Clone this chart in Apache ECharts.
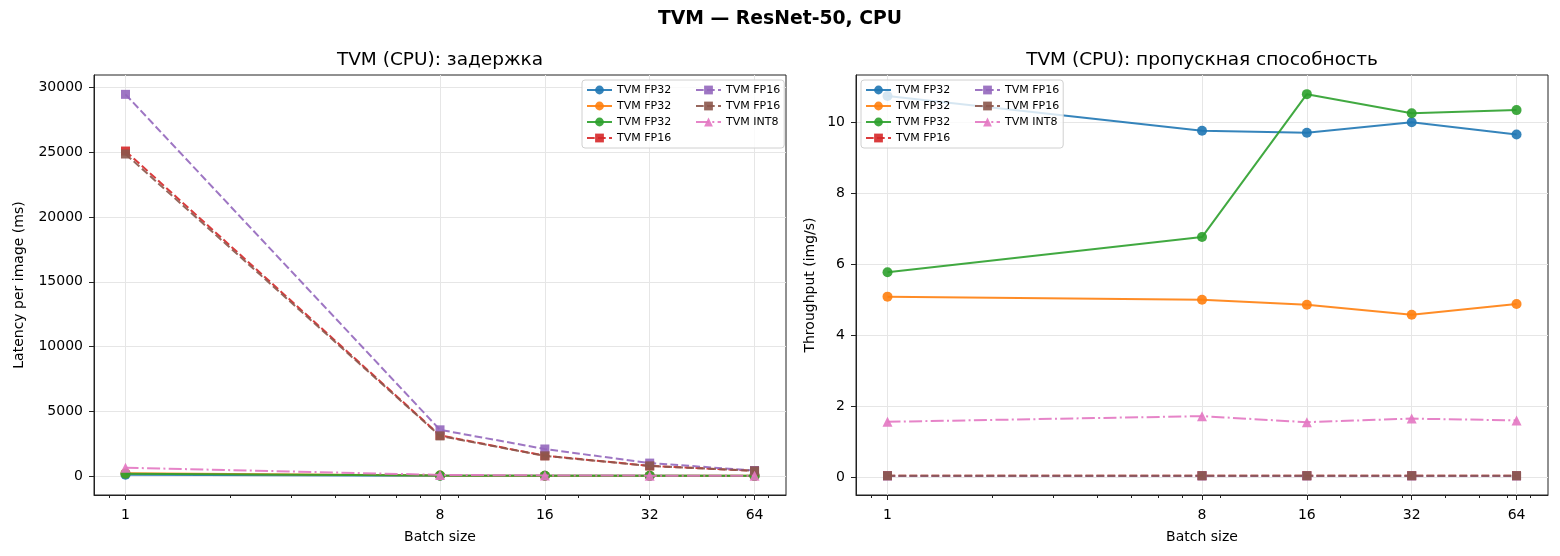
<!DOCTYPE html>
<html>
<head>
<meta charset="utf-8">
<script src="https://cdn.jsdelivr.net/npm/echarts@6/dist/echarts.min.js"></script>
<style>
  html, body { margin: 0; padding: 0; background: #fff; }
  #main { width: 1560px; height: 556px; }
</style>
</head>
<body>
<div id="main"></div>
<script>
// batch sizes on the x axis (log2)
var batchSizes = [1, 8, 16, 32, 64];
var xTicks = [1, 8, 16, 32, 64];
var xMinorTicks = [0.9, 2, 3, 4, 5, 6, 7, 9, 20, 30, 40, 50, 60, 70];
var latencyTicks = [0, 5000, 10000, 15000, 20000, 25000, 30000];
var throughputTicks = [0, 2, 4, 6, 8, 10];

// legend labels (suffix keeps duplicates apart, stripped in legend)
var seriesNames = ['TVM FP32 #1', 'TVM FP32 #2', 'TVM FP32 #3', 'TVM FP16 #4', 'TVM FP16 #5', 'TVM FP16 #6', 'TVM INT8 #7'];
var seriesColors = ['#1f77b4', '#ff7f0e', '#2ca02c', '#d62728', '#9467bd', '#8c564b', '#e377c2'];

// latency per image, ms
var latFp32a = [93, 12, 6, 3, 1.5];
var latFp32b = [197, 25, 12, 6, 3];
var latFp32c = [173, 22, 11, 5.4, 2.7];
var latFp16a = [25100, 3130, 1560, 780, 395];
var latFp16b = [29480, 3560, 2080, 990, 420];
var latFp16c = [24870, 3090, 1545, 770, 390];
var latInt8 = [630, 79, 39, 20, 10];

// throughput, img/s
var thrFp32a = [10.75, 9.77, 9.71, 10.01, 9.66];
var thrFp32b = [5.09, 5.0, 4.86, 4.58, 4.88];
var thrFp32c = [5.78, 6.77, 10.8, 10.26, 10.35];
var thrFp16a = [0.04, 0.04, 0.04, 0.04, 0.04];
var thrFp16b = [0.034, 0.035, 0.035, 0.035, 0.035];
var thrFp16c = [0.04, 0.04, 0.04, 0.04, 0.04];
var thrInt8 = [1.56, 1.72, 1.55, 1.65, 1.6];

var latencyData = [latFp32a, latFp32b, latFp32c, latFp16a, latFp16b, latFp16c, latInt8];
var throughputData = [thrFp32a, thrFp32b, thrFp32c, thrFp16a, thrFp16b, thrFp16c, thrInt8];

var FONT = 'DejaVu Sans';
var DASHED = [7.7, 3.3];
var DASHDOT = [13, 3.3, 2, 3.3];

function styleOf(i) {
    if (i < 3) return { symbol: 'circle', size: 10, type: 'solid' };
    if (i < 6) return { symbol: 'rect', size: 9, type: DASHED };
    return { symbol: 'triangle', size: 10, type: DASHDOT };
}

function makeSeries(values, gridIdx) {
    var out = [];
    for (var i = 0; i < values.length; i++) {
        var st = styleOf(i);
        var pts = [];
        for (var j = 0; j < batchSizes.length; j++) {
            pts.push([batchSizes[j], values[i][j]]);
        }
        out.push({
            name: seriesNames[i],
            type: 'line',
            xAxisIndex: gridIdx * 2,
            yAxisIndex: gridIdx,
            data: pts,
            symbol: st.symbol,
            symbolSize: st.size,
            showSymbol: true,
            lineStyle: { color: seriesColors[i], width: 2, type: st.type, opacity: 0.9 },
            itemStyle: { color: seriesColors[i], opacity: 0.9 },
            z: 2 + i
        });
    }
    return out;
}

function majorX(gridIdx) {
    return {
        gridIndex: gridIdx,
        type: 'log',
        logBase: 2,
        min: 0.812,
        max: 78.8,
        position: 'bottom',
        name: 'Batch size',
        nameLocation: 'middle',
        nameGap: 35,
        nameTextStyle: { fontFamily: FONT, fontSize: 14, color: '#000' },
        axisLine: { show: true, onZero: false, lineStyle: { color: '#222', width: 1 } },
        axisTick: { show: true, customValues: xTicks, length: 5, lineStyle: { color: '#222' } },
        axisLabel: {
            customValues: xTicks, margin: 13,
            fontFamily: FONT, fontSize: 14, color: '#000',
            formatter: function (v) { return String(Math.round(v)); }
        },
        splitLine: { show: true, lineStyle: { color: '#e6e6e6', width: 1 } },
        minorTick: { show: false }
    };
}

function minorX(gridIdx) {
    return {
        gridIndex: gridIdx,
        type: 'log',
        logBase: 2,
        min: 0.812,
        max: 78.8,
        position: 'bottom',
        axisLine: { show: false, onZero: false },
        axisTick: { show: true, customValues: xMinorTicks, length: 3, lineStyle: { color: '#222' } },
        axisLabel: { show: false },
        splitLine: { show: false }
    };
}

function valueY(gridIdx, ticks, min, max, name, gap) {
    return {
        gridIndex: gridIdx,
        type: 'value',
        min: min,
        max: max,
        name: name,
        nameLocation: 'middle',
        nameGap: gap,
        nameTextStyle: { fontFamily: FONT, fontSize: 14, color: '#000' },
        axisLine: { show: true, onZero: false, lineStyle: { color: '#222', width: 1 } },
        axisTick: { show: true, customValues: ticks, length: 5, lineStyle: { color: '#222' } },
        axisLabel: {
            customValues: ticks, margin: 11,
            fontFamily: FONT, fontSize: 14, color: '#000',
            formatter: function (v) { return String(v); }
        },
        splitLine: { show: true, lineStyle: { color: '#e6e6e6', width: 1 } }
    };
}

function makeLegend(left) {
    return {
        left: left,
        top: 80,
        height: 62,
        orient: 'vertical',
        padding: [4, 4, 4, 4],
        itemGap: 4,
        itemWidth: 25,
        itemHeight: 11,
        backgroundColor: 'rgba(255,255,255,0.8)',
        borderColor: '#d0d0d0',
        borderWidth: 1,
        borderRadius: 3,
        data: seriesNames,
        formatter: function (name) {
            var label = name.split(' #')[0];
            return seriesNames.indexOf(name) < 4 ? '{a|' + label + '}' : '{b|' + label + '}';
        },
        textStyle: {
            fontFamily: FONT, fontSize: 11, color: '#000', lineHeight: 12,
            rich: {
                a: { width: 74, fontFamily: FONT, fontSize: 11, lineHeight: 12 },
                b: { width: 50, fontFamily: FONT, fontSize: 11, lineHeight: 12 }
            }
        }
    };
}

var chart = echarts.init(document.getElementById('main'), null, { renderer: 'canvas' });
chart.setOption({
    animation: false,
    backgroundColor: '#fff',
    title: [
        { text: 'TVM — ResNet-50, CPU', left: 780, top: 10, padding: 0, textAlign: 'center',
          textStyle: { fontFamily: FONT, fontSize: 18.8, fontWeight: 'bold', color: '#000' } },
        { text: 'TVM (CPU): задержка', left: 440, top: 51, padding: 0, textAlign: 'center',
          textStyle: { fontFamily: FONT, fontSize: 18.5, fontWeight: 'normal', color: '#000' } },
        { text: 'TVM (CPU): пропускная способность', left: 1202, top: 51, padding: 0, textAlign: 'center',
          textStyle: { fontFamily: FONT, fontSize: 18.5, fontWeight: 'normal', color: '#000' } }
    ],
    legend: [makeLegend(582), makeLegend(861)],
    grid: [
        { left: 94, right: 774, top: 75, bottom: 61, show: true, borderColor: '#222', borderWidth: 1 },
        { left: 856, right: 12, top: 75, bottom: 61, show: true, borderColor: '#222', borderWidth: 1 }
    ],
    xAxis: [majorX(0), minorX(0), majorX(1), minorX(1)],
    yAxis: [
        valueY(0, latencyTicks, -1475, 30975, 'Latency per image (ms)', 68),
        valueY(1, throughputTicks, -0.504, 11.34, 'Throughput (img/s)', 39)
    ],
    series: makeSeries(latencyData, 0).concat(makeSeries(throughputData, 1))
});
</script>
</body>
</html>
